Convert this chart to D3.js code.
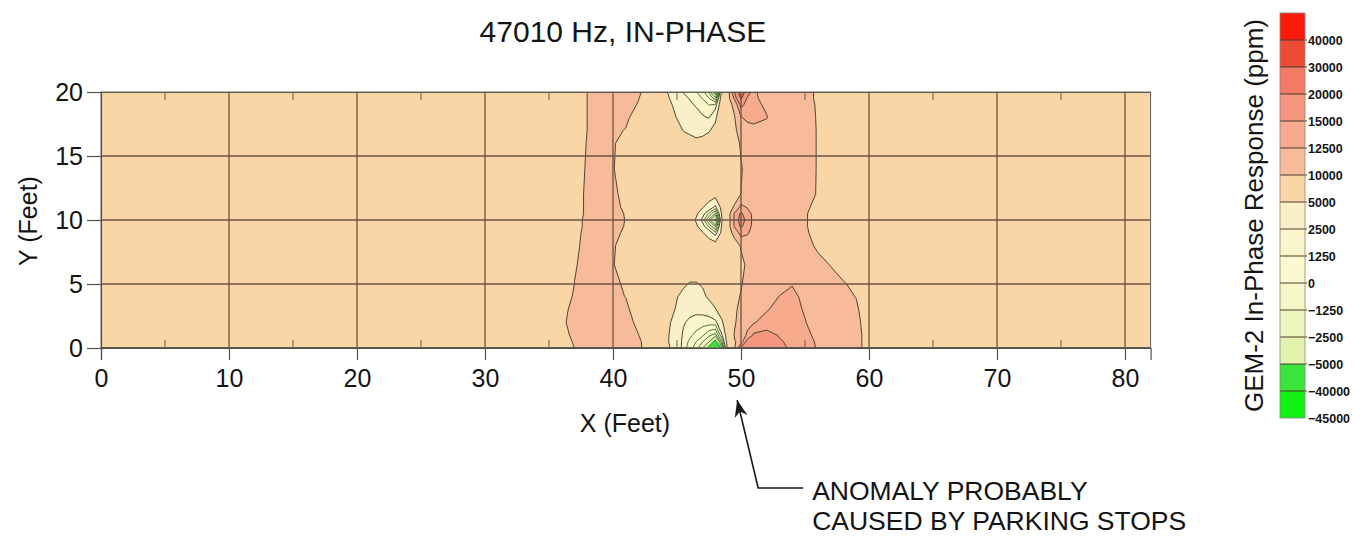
<!DOCTYPE html>
<html>
<head>
<meta charset="utf-8">
<script src="https://cdn.jsdelivr.net/npm/d3@7"></script>
<style>
  body { margin: 0; background: #ffffff; }
  text { font-family: "Liberation Sans", Arial, Helvetica, sans-serif; fill: #141414; }
</style>
</head>
<body>
<svg id="chart" width="1371" height="540"></svg>
<script>
// Grid node positions (feet) of the gridded in-phase survey
const gridX = [0, 36, 37, 38, 40, 41, 42, 44, 45, 45.5, 46, 46.5, 47, 47.5, 48, 48.5, 49, 49.5, 50, 50.5, 51, 52, 53, 54, 55, 56, 57, 58, 59, 60, 82];
const gridY = [0, 0.5, 1, 2, 3, 4, 5, 6.5, 8, 9, 9.5, 10, 10.5, 11, 12, 14, 16, 17, 18, 19, 19.5, 20];

// GEM-2 in-phase response (ppm): one row per gridY value, one entry per gridX value
const inPhase = [
  [7500, 7500, 10050, 11000, 11000, 11000, 10600, 5900, 3900, 1800, 600, -700, -2500, -6000, -20000, -3000, 6500, 9700, 15500, 17500, 18000, 17500, 15800, 14500, 13500, 12300, 11500, 11300, 12000, 7500, 7500],
  [7500, 7500, 10625, 11000, 11000, 11000, 10500, 5700, 3700, 2000, 1000, 0, -1200, -2500, -6000, 0, 7000, 9800, 11000, 16500, 17000, 16500, 15300, 14300, 13300, 12200, 11500, 11300, 12000, 7500, 7500],
  [7500, 8500, 11000, 11000, 11000, 11000, 10050, 5700, 3800, 2200, 1500, 900, 200, -1000, -1800, 2300, 7000, 10300, 11500, 12800, 15500, 16000, 14800, 14000, 13000, 12000, 11300, 11300, 12000, 7500, 7500],
  [7500, 9500, 11000, 11000, 11000, 11000, 9333, 6000, 4000, 2700, 2100, 1900, 1800, 1800, 2000, 4500, 7500, 9600, 11600, 12000, 12300, 13500, 14000, 13500, 12600, 11600, 11300, 11300, 11300, 7500, 7500],
  [7500, 9000, 11000, 11000, 11000, 11000, 7500, 6500, 4700, 3700, 3100, 2900, 3000, 3300, 4800, 6500, 8500, 9500, 10800, 11500, 11800, 12300, 13300, 13200, 12300, 11500, 11200, 11000, 10600, 7500, 7500],
  [7500, 7500, 10625, 11000, 11000, 9900, 7500, 6800, 5100, 4300, 3800, 3700, 4300, 5500, 6500, 7400, 8500, 9300, 10200, 10800, 11200, 11800, 12550, 13000, 12000, 11800, 11400, 10900, 9900, 7500, 7500],
  [7500, 7500, 10050, 11000, 11000, 9333, 7500, 7200, 6500, 5400, 4800, 4800, 5300, 6200, 6900, 7500, 8000, 8800, 9800, 10800, 11000, 11500, 12000, 12400, 12000, 11500, 11000, 10500, 8500, 7500, 7500],
  [7500, 7500, 9750, 11000, 10300, 7300, 7500, 7500, 7300, 7000, 6800, 6800, 7000, 7200, 7400, 7500, 7600, 8000, 9400, 10400, 11000, 11000, 11300, 11500, 11300, 10900, 9900, 7500, 7500, 7500, 7500],
  [7500, 7500, 9333, 11000, 10500, 8000, 7500, 7500, 7500, 7500, 7500, 7300, 7000, 6800, 6500, 7200, 8500, 9000, 10200, 11000, 11000, 11000, 11000, 11000, 11000, 9500, 7500, 7500, 7500, 7500, 7500],
  [7500, 7500, 9000, 11000, 11000, 9333, 7500, 7500, 7500, 7500, 7300, 6500, 5200, 3500, 1500, 5800, 9000, 10800, 13500, 12800, 11500, 11000, 11000, 11000, 11000, 7667, 7500, 7500, 7500, 7500, 7500],
  [7500, 7500, 8500, 11000, 11000, 9800, 7500, 7500, 7500, 7500, 7100, 5600, 3200, 1000, -1500, 5300, 8900, 12800, 15500, 13500, 11800, 11000, 11000, 11000, 10500, 8000, 7500, 7500, 7500, 7500, 7500],
  [7500, 7500, 8500, 11000, 11000, 9900, 7500, 7500, 7500, 7500, 6800, 4600, 2000, -1500, -6000, 4700, 8800, 13000, 16500, 14000, 11800, 11000, 11000, 11000, 10500, 8000, 7500, 7500, 7500, 7500, 7500],
  [7500, 7500, 7500, 11071, 11000, 9800, 7500, 7500, 7500, 7500, 7100, 5600, 3200, 1000, -1500, 5300, 8900, 12800, 15500, 13500, 11800, 11000, 11000, 11000, 10500, 8000, 7500, 7500, 7500, 7500, 7500],
  [7500, 7500, 7500, 11071, 11000, 9333, 7500, 7500, 7500, 7500, 7300, 6500, 5200, 3800, 2000, 6000, 9000, 10300, 13200, 12300, 11300, 11000, 11000, 11000, 11000, 8500, 7500, 7500, 7500, 7500, 7500],
  [7500, 7500, 7500, 11071, 11000, 8500, 7500, 7500, 7500, 7500, 7500, 7300, 7000, 6500, 6000, 7000, 8500, 9000, 10050, 11000, 11000, 11000, 11000, 11000, 11000, 9800, 7500, 7500, 7500, 7500, 7500],
  [7500, 7500, 7500, 10625, 10300, 7300, 7500, 7500, 7500, 7500, 7500, 7500, 7500, 7500, 7500, 7500, 7500, 8000, 9800, 10800, 11000, 11000, 11000, 11000, 11000, 9850, 7500, 7500, 7500, 7500, 7500],
  [7500, 7500, 7500, 10278, 10500, 8000, 7500, 7400, 6900, 6400, 5800, 5500, 5700, 6200, 7000, 7800, 8600, 9000, 10300, 10900, 11000, 11000, 11000, 11000, 11000, 9850, 7500, 7500, 7500, 7500, 7500],
  [7500, 7500, 7500, 10050, 11000, 9750, 7500, 7200, 5900, 4900, 4600, 4300, 4400, 4800, 5800, 7800, 9500, 9700, 10700, 11300, 11800, 11600, 11200, 11000, 11000, 9850, 7500, 7500, 7500, 7500, 7500],
  [7500, 7500, 7500, 10050, 11000, 11000, 7500, 6800, 4900, 4500, 4000, 3300, 2700, 2400, 4500, 7600, 9400, 9900, 12300, 13200, 13200, 12600, 11200, 11000, 11000, 9800, 7500, 7500, 7500, 7500, 7500],
  [7500, 7500, 7500, 10050, 11000, 11000, 9800, 6300, 4200, 3400, 2800, 2300, 1800, 1200, 1500, 7300, 9300, 10500, 15800, 14000, 13000, 12200, 11000, 11000, 11000, 9700, 7500, 7500, 7500, 7500, 7500],
  [7500, 7500, 7500, 10050, 11000, 11000, 10100, 5900, 3700, 3000, 2400, 1900, 1200, 0, -2000, 6800, 9200, 13000, 20500, 14500, 13200, 11200, 11000, 11000, 11000, 9500, 7500, 7500, 7500, 7500, 7500],
  [7500, 7500, 7500, 10050, 11000, 11000, 10500, 5500, 3500, 2400, 1800, 1300, 500, -1500, -7000, 6000, 9000, 15000, 24000, 17000, 13000, 11000, 11000, 11000, 11000, 9500, 7500, 7500, 7500, 7500, 7500]
];

// Contour levels (ppm) and the fill of the band that starts at each level
const levels = [-45000, -40000, -5000, -2500, -1250, 0, 1250, 2500, 5000, 10000, 12500, 15000, 20000, 30000, 40000];
const levelColors = ["#12f212", "#3ae43a", "#e3f3ae", "#edf6bb", "#f5f8c6", "#fbf9cf", "#fbf5cb", "#f9efc9", "#fad6a6", "#f8bb9a", "#f7aa8c", "#f5977f", "#f37b66", "#ee4b34", "#fc1c0c"];
// Isolines below this level are drawn in the dark green line colour
const greenLineBelow = 2500;

const xTicks = [0, 10, 20, 30, 40, 50, 60, 70, 80];
const xMinorTicks = [5, 15, 25, 35, 45, 55, 65, 75];
const yTicks = [0, 5, 10, 15, 20];
const yGrid = [5, 10, 15];

const svg = d3.select("#chart");

// plot frame
const plot = { left: 101, right: 1150.6, top: 92, bottom: 348 };
const x = d3.scaleLinear().domain([0, 82]).range([plot.left, plot.right]);
const y = d3.scaleLinear().domain([0, 20]).range([plot.bottom, plot.top]);

// grid-index space -> feet (samples sit at index + 0.5 in d3.contours output)
const nx = gridX.length, ny = gridY.length;
const gx = d3.scaleLinear().domain(gridX.map((_, i) => i + 0.5)).range(gridX).clamp(true);
const gy = d3.scaleLinear().domain(gridY.map((_, j) => j + 0.5)).range(gridY).clamp(true);

const contours = d3.contours().size([nx, ny]).thresholds(levels)(inPhase.flat());

const toPath = mp => mp.coordinates.map(poly =>
  poly.map(ring => "M" + ring.map(([a, b]) => x(gx(a)).toFixed(2) + "," + y(gy(b)).toFixed(2)).join("L") + "Z").join("")
).join("");

svg.append("defs").append("clipPath").attr("id", "plotClip")
  .append("rect")
  .attr("x", plot.left).attr("y", plot.top)
  .attr("width", plot.right - plot.left).attr("height", plot.bottom - plot.top);

// filled bands
const fills = svg.append("g").attr("clip-path", "url(#plotClip)");
contours.forEach((c, i) => {
  fills.append("path").attr("d", toPath(c)).attr("fill", levelColors[i]).attr("stroke", "none");
});

// contour lines
const lines = svg.append("g").attr("clip-path", "url(#plotClip)");
contours.forEach((c, i) => {
  if (i === 0) return;
  lines.append("path").attr("d", toPath(c))
    .attr("fill", "none")
    .attr("stroke", c.value < greenLineBelow ? "#3d6a2e" : "#3a3528")
    .attr("stroke-width", 0.9)
    .attr("stroke-linejoin", "round");
});

// grid lines
const grid = svg.append("g").attr("stroke", "#6c5248").attr("stroke-width", 1.3);
xTicks.filter(v => v > 0).forEach(v => {
  grid.append("line").attr("x1", x(v)).attr("x2", x(v)).attr("y1", plot.top).attr("y2", plot.bottom);
});
yGrid.forEach(v => {
  grid.append("line").attr("x1", plot.left).attr("x2", plot.right).attr("y1", y(v)).attr("y2", y(v));
});

// minor ticks, pointing inward along top and bottom edges
const minor = svg.append("g").attr("stroke", "#6c5a52").attr("stroke-width", 1);
xMinorTicks.forEach(v => {
  minor.append("line").attr("x1", x(v)).attr("x2", x(v)).attr("y1", plot.top).attr("y2", plot.top + 8);
  minor.append("line").attr("x1", x(v)).attr("x2", x(v)).attr("y1", plot.bottom).attr("y2", plot.bottom - 8);
});

// frame
svg.append("rect")
  .attr("x", plot.left).attr("y", plot.top)
  .attr("width", plot.right - plot.left).attr("height", plot.bottom - plot.top)
  .attr("fill", "none").attr("stroke", "#77706c").attr("stroke-width", 1);

// axes
const xAxis = svg.append("g").attr("transform", `translate(0,${plot.bottom})`)
  .call(d3.axisBottom(x).tickValues(xTicks).tickSize(12).tickPadding(9).tickFormat(d3.format("d")));
const yAxis = svg.append("g").attr("transform", `translate(${plot.left},0)`)
  .call(d3.axisLeft(y).tickValues(yTicks).tickSize(14).tickPadding(4).tickFormat(d3.format("d")));
[xAxis, yAxis].forEach(a => {
  a.select(".domain").attr("stroke", "#55504c").attr("stroke-width", 1.2);
  a.selectAll(".tick line").attr("stroke", "#55504c").attr("stroke-width", 1.2);
  a.selectAll(".tick text").attr("font-size", 25).attr("fill", "#141414")
    .attr("font-family", "'Liberation Sans', Arial, sans-serif");
});

// titles
svg.append("text").attr("x", 623).attr("y", 42).attr("text-anchor", "middle")
  .attr("font-size", 30).text("47010 Hz, IN-PHASE");
svg.append("text").attr("x", 625).attr("y", 432).attr("text-anchor", "middle")
  .attr("font-size", 25).text("X (Feet)");
svg.append("text").attr("transform", "translate(37,221) rotate(-90)").attr("text-anchor", "middle")
  .attr("font-size", 25).text("Y (Feet)");

// colour bar
const cb = { x: 1280, w: 25, top: 13, bottom: 418 };
const cbY = d3.scaleLinear().domain([0, levels.length]).range([cb.bottom, cb.top]);
const bar = svg.append("g");
levels.forEach((lv, i) => {
  bar.append("rect").attr("x", cb.x).attr("y", cbY(i + 1))
    .attr("width", cb.w).attr("height", cbY(i) - cbY(i + 1))
    .attr("fill", levelColors[i]);
});
levels.forEach((lv, i) => {
  if (i > 0) {
    bar.append("line").attr("x1", cb.x).attr("x2", cb.x + cb.w + 2)
      .attr("y1", cbY(i)).attr("y2", cbY(i))
      .attr("stroke", "#4a3a30").attr("stroke-width", 1);
  }
  bar.append("text").attr("x", cb.x + cb.w + 3).attr("y", cbY(i)).attr("dy", "0.36em")
    .attr("font-size", 12.5).attr("font-weight", 600).text(d3.format("d")(lv));
});
bar.append("rect").attr("x", cb.x).attr("y", cb.top)
  .attr("width", cb.w).attr("height", cb.bottom - cb.top)
  .attr("fill", "none").attr("stroke", "#8a8480").attr("stroke-width", 0.8);
svg.append("text").attr("transform", `translate(1263,${(cb.top + cb.bottom) / 2}) rotate(-90)`)
  .attr("text-anchor", "middle").attr("font-size", 26).text("GEM-2 In-Phase Response (ppm)");

// annotation pointing at the x = 50 ft anomaly
const tip = [x(49.7), plot.bottom + 52];
const elbow = [tip[0] + 21, tip[1] + 88];
const tail = [elbow[0] + 45, elbow[1]];
svg.append("path")
  .attr("d", `M${tail[0]},${tail[1]}L${elbow[0]},${elbow[1]}L${tip[0]},${tip[1]}`)
  .attr("fill", "none").attr("stroke", "#1a1a1a").attr("stroke-width", 1.6);
{
  const dx = tip[0] - elbow[0], dy = tip[1] - elbow[1];
  const len = Math.hypot(dx, dy), ux = dx / len, uy = dy / len;
  const hl = 17, hw = 6.5;
  const bx = tip[0] - ux * hl, by = tip[1] - uy * hl;
  const nxv = -uy, nyv = ux;
  const mx = tip[0] - ux * hl * 0.7, my = tip[1] - uy * hl * 0.7;
  svg.append("path")
    .attr("d", `M${tip[0]},${tip[1]}L${bx + nxv * hw},${by + nyv * hw}L${mx},${my}L${bx - nxv * hw},${by - nyv * hw}Z`)
    .attr("fill", "#1a1a1a");
}
const note = svg.append("text").attr("font-size", 26.5);
note.append("tspan").attr("x", tail[0] + 9).attr("y", 500).text("ANOMALY PROBABLY");
note.append("tspan").attr("x", tail[0] + 9).attr("y", 530).text("CAUSED BY PARKING STOPS");
</script>
</body>
</html>
